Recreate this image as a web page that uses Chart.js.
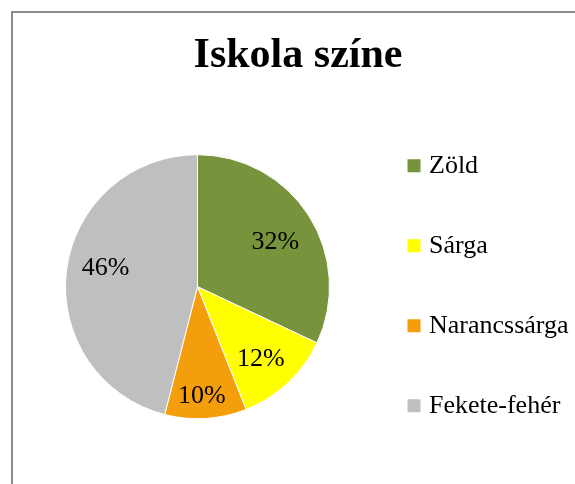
<!DOCTYPE html>
<html>
<head>
<meta charset="utf-8">
<script src="https://cdn.jsdelivr.net/npm/chart.js@4.4.1/dist/chart.umd.min.js"></script>
<style>
  html, body { margin: 0; padding: 0; background: #ffffff; overflow: hidden; }
  #wrap { position: relative; width: 575px; height: 484px; }
  #frame { position: absolute; left: 11px; top: 11px; width: 700px; height: 700px;
           border-left: 2px solid #8e8e8e; border-top: 2px solid #8e8e8e; box-sizing: border-box; }
  canvas { position: absolute; left: 0; top: 0; }
</style>
</head>
<body>
<div id="wrap">
  <div id="frame"></div>
  <canvas id="c" width="575" height="484"></canvas>
</div>
<script>
const chartTitle = 'Iskola színe';
const categories = ['Zöld', 'Sárga', 'Narancssárga', 'Fekete-fehér'];
const values = [32, 12, 10, 46];
const sliceColors = ['#77933C', '#FFFF00', '#F59E0B', '#BFBFBF'];
// label placement (style): fraction of radius and angular shift in degrees
const labelRadiusFactor = [0.68, 0.73, 0.83, 0.71];
const labelAngleShift = [2.5, 2.2, 1.3, 4.4];

const FONT = "'Liberation Serif', 'Times New Roman', serif";

const pctLabels = {
  id: 'pctLabels',
  afterDatasetsDraw(chart) {
    const ctx = chart.ctx;
    const meta = chart.getDatasetMeta(0);
    const data = chart.data.datasets[0].data;
    const total = data.reduce((a, b) => a + b, 0);
    ctx.save();
    ctx.font = '26px ' + FONT;
    ctx.fillStyle = '#000000';
    ctx.textAlign = 'center';
    ctx.textBaseline = 'middle';
    meta.data.forEach((arc, i) => {
      const p = arc.getProps(['x', 'y', 'startAngle', 'endAngle', 'outerRadius'], true);
      const mid = (p.startAngle + p.endAngle) / 2 + labelAngleShift[i] * Math.PI / 180;
      const r = p.outerRadius * labelRadiusFactor[i];
      const txt = Math.round(data[i] / total * 100) + '%';
      ctx.fillText(txt, p.x + Math.cos(mid) * r, p.y + Math.sin(mid) * r);
    });
    ctx.restore();
  }
};

new Chart(document.getElementById('c'), {
  type: 'pie',
  data: {
    labels: categories,
    datasets: [{
      data: values,
      backgroundColor: sliceColors,
      borderColor: '#ffffff',
      borderWidth: 1,
      radius: 132
    }]
  },
  plugins: [pctLabels],
  options: {
    responsive: false,
    animation: false,
    devicePixelRatio: 1,
    layout: { padding: { left: 21, right: 0, top: 0, bottom: 0 } },
    plugins: {
      tooltip: { enabled: false },
      title: {
        display: true,
        text: chartTitle,
        color: '#000000',
        font: { family: FONT, size: 42, weight: 'bold', lineHeight: 1.2 },
        padding: { top: 31, bottom: 8 }
      },
      legend: {
        display: true,
        position: 'right',
        fullSize: false,
        maxWidth: 201,
        title: { display: true, text: ' ', font: { size: 10, lineHeight: 1.2 }, padding: 1 },
        labels: {
          color: '#000000',
          font: { family: FONT, size: 26, lineHeight: 42 / 26 },
          usePointStyle: true,
          pointStyle: 'rect',
          boxWidth: 4,
          boxHeight: 13,
          padding: 38,
          generateLabels(chart) {
            const items = Chart.overrides.pie.plugins.legend.labels.generateLabels(chart);
            return items.map(it => Object.assign(it, {
              text: [it.text],
              strokeStyle: it.fillStyle,
              lineWidth: 0
            }));
          }
        }
      }
    }
  }
});
</script>
</body>
</html>
